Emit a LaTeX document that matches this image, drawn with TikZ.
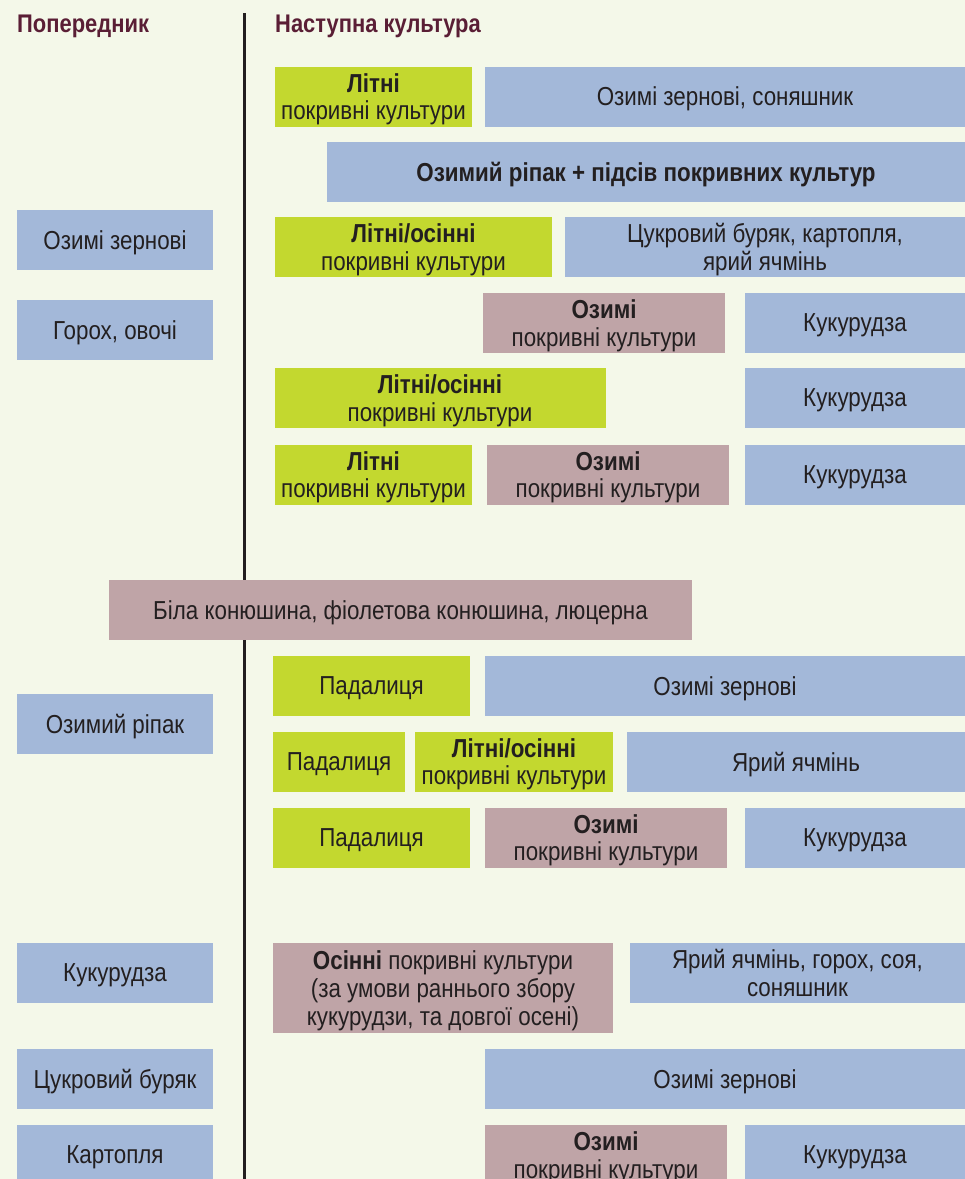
\documentclass[tikz,border=0pt]{standalone}
\usepackage{fontspec}
\setmainfont{Liberation Sans}[FakeStretch=0.86]
\definecolor{bgcol}{HTML}{F4F8E9}
\definecolor{cropblue}{HTML}{A3B8D9}
\definecolor{cropgreen}{HTML}{C3D82F}
\definecolor{croppink}{HTML}{BFA4A7}
\definecolor{headcol}{HTML}{5A1E35}
\definecolor{txtcol}{HTML}{231F20}
\tikzset{
  cell/.style={inner sep=0pt, minimum height=60, align=center, text=txtcol,
    text depth=0pt, font=\fontsize{26}{27.7}\selectfont},
  blue/.style={cell, fill=cropblue},
  green/.style={cell, fill=cropgreen},
  pink/.style={cell, fill=croppink},
  head/.style={anchor=base west, inner sep=0pt, text=headcol,
    font=\fontsize{25.5}{28}\selectfont\bfseries},
  divider/.style={line width=3pt, txtcol}
}
\begin{document}
\begin{tikzpicture}[x=1pt,y=-1pt]
\clip (0,0) rectangle (965,1179);
\fill[bgcol] (0,0) rectangle (965,1179);

% headings and divider
\node[head] (hprev) at (17,32) {Попередник};
\node[head] (hnext) at (275,32) {Наступна культура};
\coordinate (divtop) at (244,13);
\coordinate (divbot) at (244,1179);
\draw[divider] (divtop) -- (divbot);

% predecessors
\node[blue, minimum width=196] (prev1) at (115,240) {Озимі зернові};
\node[blue, minimum width=196] (prev2) at (115,330) {Горох, овочі};
\node[blue, minimum width=196] (prev3) at (115,724) {Озимий ріпак};
\node[blue, minimum width=196] (prev4) at (115,973) {Кукурудза};
\node[blue, minimum width=196] (prev5) at (115,1079) {Цукровий буряк};
\node[blue, minimum width=196] (prev6) at (115,1155) {Картопля};

% following crops, cereals / peas
\node[green, minimum width=197] (n1a) at (373.5,96.5) {{\bfseries Літні}\\покривні культури};
\node[blue, minimum width=480] (n1b) at (725,96.5) {Озимі зернові, соняшник};
\node[blue, minimum width=638] (n2) at (646,172) {\bfseries Озимий ріпак + підсів покривних культур};
\node[green, minimum width=277] (n3a) at (413.5,247) {{\bfseries Літні/осінні}\\покривні культури};
\node[blue, minimum width=400] (n3b) at (765,247) {Цукровий буряк, картопля,\\ярий ячмінь};
\node[pink, minimum width=242] (n4a) at (604,323) {{\bfseries Озимі}\\покривні культури};
\node[blue, minimum width=220] (n4b) at (855,323) {Кукурудза};
\node[green, minimum width=331] (n5a) at (440,398) {{\bfseries Літні/осінні}\\покривні культури};
\node[blue, minimum width=220] (n5b) at (855,398) {Кукурудза};
\node[green, minimum width=197] (n6a) at (373.5,474.5) {{\bfseries Літні}\\покривні культури};
\node[pink, minimum width=242] (n6b) at (608,474.5) {{\bfseries Озимі}\\покривні культури};
\node[blue, minimum width=220] (n6c) at (855,474.5) {Кукурудза};

% legumes
\node[pink, minimum width=583] (clover) at (400.5,610) {Біла конюшина, фіолетова конюшина, люцерна};

% following crops, rape
\node[green, minimum width=197] (n7a) at (371.5,686) {Падалиця};
\node[blue, minimum width=480] (n7b) at (725,686) {Озимі зернові};
\node[green, minimum width=132] (n8a) at (339,761.5) {Падалиця};
\node[green, minimum width=198] (n8b) at (514,761.5) {{\bfseries Літні/осінні}\\покривні культури};
\node[blue, minimum width=338] (n8c) at (796,761.5) {Ярий ячмінь};
\node[green, minimum width=197] (n9a) at (371.5,837.5) {Падалиця};
\node[pink, minimum width=242] (n9b) at (606,837.5) {{\bfseries Озимі}\\покривні культури};
\node[blue, minimum width=220] (n9c) at (855,837.5) {Кукурудза};

% following crops, maize / beet / potato
\node[pink, minimum width=340, minimum height=90] (n10a) at (443,988)
  {{\bfseries Осінні} покривні культури\\(за умови раннього збору\\кукурудзи, та довгої осені)};
\node[blue, minimum width=335] (n10b) at (797.5,973) {Ярий ячмінь, горох, соя,\\соняшник};
\node[blue, minimum width=480] (n11) at (725,1079) {Озимі зернові};
\node[pink, minimum width=242] (n12a) at (606,1155) {{\bfseries Озимі}\\покривні культури};
\node[blue, minimum width=220] (n12b) at (855,1155) {Кукурудза};
\end{tikzpicture}
\end{document}
